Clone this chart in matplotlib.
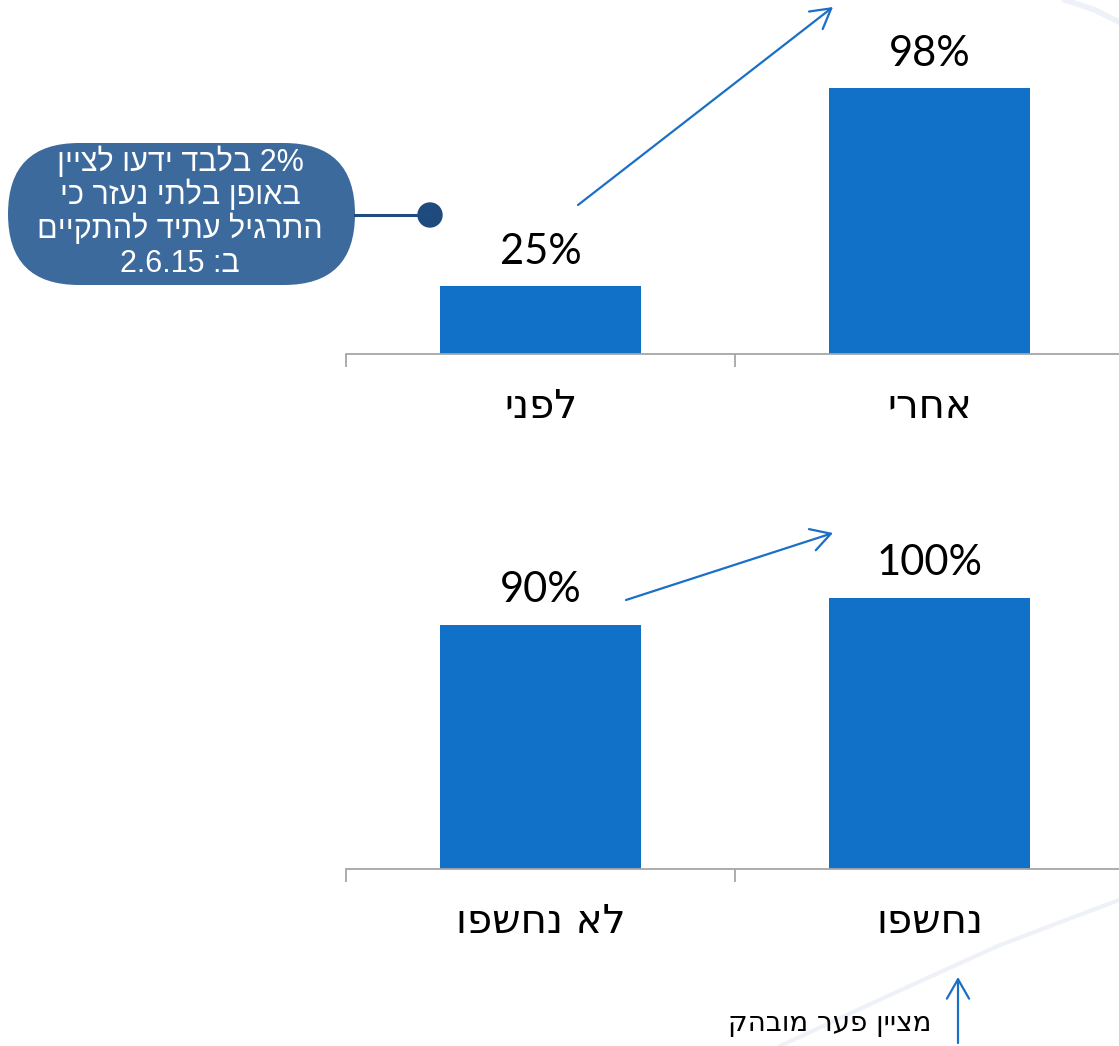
import matplotlib.pyplot as plt
from matplotlib.patches import FancyBboxPatch, Circle, FancyArrowPatch

top_labels = ['לפני', 'אחרי']
top_values = [25, 98]
bottom_labels = ['לא נחשפו', 'נחשפו']
bottom_values = [90, 100]
callout_lines = ['2% בלבד ידעו לציין', 'באופן בלתי נעזר כי',
                 'התרגיל עתיד להתקיים', 'ב: 2.6.15']
note_text = 'מציין פער מובהק'

BAR = '#1170c8'
ARROW = '#1b6fc6'
AXIS = '#a6a6a6'
W, H = 1119, 1046
HEB = ['DejaVu Sans']
NUM = ['Lato', 'DejaVu Sans']


def rtl(s):
    # matplotlib has no bidi: flip hebrew words and the word order by hand
    words = []
    for w in s.split(' '):
        if any('\u0590' <= c <= '\u05ff' for c in w):
            w = w[::-1]
        words.append(w)
    return ' '.join(words[::-1])


def bar_panel(fig, rect, labels, values):
    ax = fig.add_axes(rect)
    x = list(range(len(values)))
    ax.bar(x, values, width=0.517, color=BAR)
    ax.set_xlim(-0.5, len(values) - 0.5)
    ax.set_ylim(0, 130.6)
    for s in ['top', 'right', 'left']:
        ax.spines[s].set_visible(False)
    ax.spines['bottom'].set_color(AXIS)
    ax.spines['bottom'].set_linewidth(1.3)
    ax.set_yticks([])
    ax.set_xticks(x)
    ax.set_xticklabels([rtl(l) for l in labels], fontsize=29, family=HEB)
    ax.tick_params(axis='x', which='major', length=0, pad=24)
    ax.set_xticks([i - 0.5 for i in range(len(values) + 1)], minor=True)
    ax.tick_params(axis='x', which='minor', length=9, color=AXIS, width=1.3)
    for xi, v in zip(x, values):
        ax.annotate(f'{v}%', (xi, v), xytext=(0, 25), textcoords='offset points',
                    ha='center', va='center', fontsize=30, family=NUM)
    ax.patch.set_alpha(0)
    return ax


fig = plt.figure(figsize=(W / 100, H / 100), dpi=100)

# overlay in pixel coords (top-left origin) for the decorations
ov = fig.add_axes([0, 0, 1, 1])
ov.set_xlim(0, W)
ov.set_ylim(H, 0)
ov.axis('off')

# faint background swooshes
ov.plot([780, 890, 1000, 1119], [1046, 995, 945, 900], color='#eef2f8', lw=3)
ov.plot([1065, 1095, 1119], [0, 10, 22], color='#eef2f8', lw=4)

bar_panel(fig, [346 / W, 1 - 354 / H, 778 / W, 354 / H], top_labels, top_values)
bar_panel(fig, [346 / W, 1 - 869 / H, 778 / W, 354 / H], bottom_labels, bottom_values)

ov2 = fig.add_axes([0, 0, 1, 1])
ov2.set_xlim(0, W)
ov2.set_ylim(H, 0)
ov2.axis('off')


def arrow(a, b):
    ov2.add_patch(FancyArrowPatch(a, b, arrowstyle='->,head_length=0.7,head_width=0.4',
                                  mutation_scale=20, color=ARROW, lw=1.6,
                                  shrinkA=0, shrinkB=0))


arrow((578, 205), (833, 7))
arrow((626, 600), (833, 533))
arrow((958, 1043), (958, 977))

# callout bubble
ov2.add_patch(FancyBboxPatch((8, 143), 347, 142, boxstyle='round,pad=0,rounding_size=71',
                             facecolor='#3d6a9c', edgecolor='none'))
ov2.plot([355, 430], [215, 215], color='#1f4b7f', lw=2.2)
ov2.add_patch(Circle((430, 215), 12, color='#1f4a7e'))
for line, y in zip(callout_lines, [162, 195, 229, 264]):
    ov2.text(180, y, rtl(line), ha='center', va='center', color='white',
             fontsize=22, family=['Liberation Sans', 'DejaVu Sans'])

ov2.text(830, 1023, rtl(note_text), ha='center', va='center', fontsize=20, family=HEB)

fig.savefig('out.png', dpi=100)
